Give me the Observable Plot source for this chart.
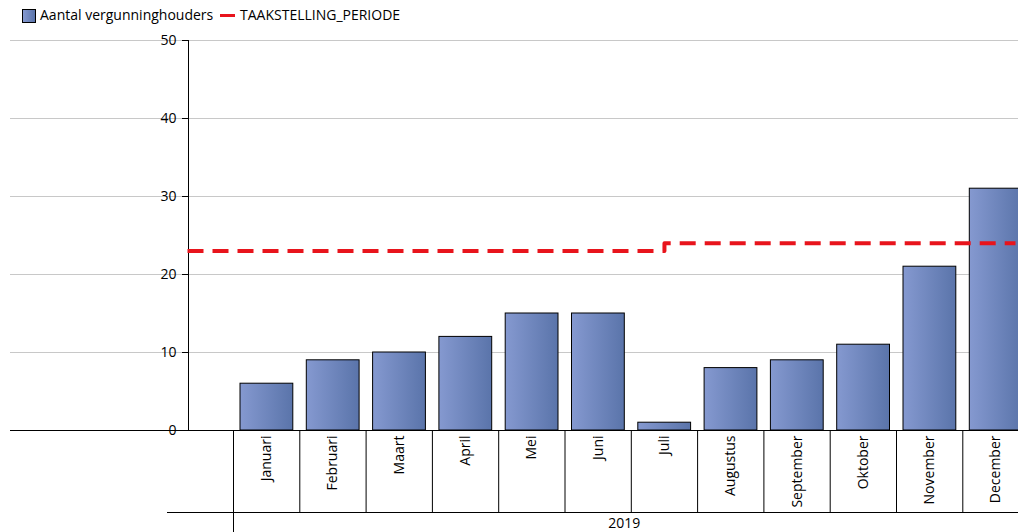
<!DOCTYPE html>
<html>
<head>
<meta charset="utf-8">
<script src="https://cdn.jsdelivr.net/npm/d3@7"></script>
<script src="https://cdn.jsdelivr.net/npm/@observablehq/plot@0.6"></script>
<style>
  html, body { margin: 0; padding: 0; background: #fff; overflow: hidden; }
  body { font-family: "Open Sans", Lato, sans-serif; }
  #legend { height: 24px; position: relative; font-size: 14px; color: #000; }
  #legend .sw { position: absolute; top: 9px; left: 22px; width: 12px; height: 12px; border: 1px solid #000;
    background: linear-gradient(to right, #8599d0, #5a74aa); }
  #legend .t1 { position: absolute; left: 40px; top: 5px; white-space: nowrap; }
  #legend .ln { position: absolute; left: 220px; top: 14px; width: 15px; height: 3px; background: #e8141c; }
  #legend .t2 { position: absolute; left: 240px; top: 5px; white-space: nowrap; }
</style>
</head>
<body>
<div id="legend"><div class="sw"></div><span class="t1">Aantal vergunninghouders</span><div class="ln"></div><span class="t2">TAAKSTELLING_PERIODE</span></div>
<div id="chart"></div>
<script>
const months = ["Januari","Februari","Maart","April","Mei","Juni","Juli","Augustus","September","Oktober","November","December"];
const vergunninghouders = [6, 9, 10, 12, 15, 15, 1, 8, 9, 11, 21, 31];
const taakstelling = [23, 23, 23, 23, 23, 23, 24, 24, 24, 24, 24, 24];
const yearLabel = "2019";
const yTicks = [0, 10, 20, 30, 40, 50];

const data = months.map((m, i) => ({i, month: m, value: vergunninghouders[i], target: taakstelling[i]}));

const W = 1018, H = 508;
const mTop = 16, mBottom = 102, mLeft = 10, mRight = 0;
const axisX = 188;            // pixel position of the value axis
const xDomain = [-0.5, months.length - 0.5];
const xRange = [233, 233 + 66.3 * months.length];
const xs = d3.scaleLinear(xDomain, xRange);
const lineStart = xs.invert(axisX - 1);
const lineEnd = xs.invert(1015);
const lineData = [{x: lineStart, y: taakstelling[0]}, ...data.map(d => ({x: d.i, y: d.target})), {x: lineEnd, y: taakstelling[taakstelling.length - 1]}];
const borders = d3.range(months.length + 1).map(k => k - 0.5);

const plot = Plot.plot({
  width: W, height: H,
  marginTop: mTop, marginBottom: mBottom, marginLeft: mLeft, marginRight: mRight,
  style: {fontFamily: "'Open Sans', Lato, sans-serif", fontSize: "14px", color: "#000", background: "#fff"},
  x: {type: "linear", domain: xDomain, range: xRange, axis: null},
  y: {domain: [0, 50], axis: null},
  marks: [
    Plot.gridY(yTicks, {stroke: "#c8c8c8", strokeOpacity: 1}),
    Plot.axisY(yTicks, {dx: axisX - mLeft, tickSize: 6, tickPadding: 6, fontSize: 14, label: null, stroke: "#000"}),
    Plot.frame({anchor: "left", dx: axisX - mLeft, stroke: "#000"}),
    Plot.rectY(data, {x1: d => d.i - 0.5, x2: d => d.i + 0.5, y1: 0, y2: "value", insetLeft: 7, insetRight: 6.5,
      fill: "url(#barGrad)", stroke: "#000", strokeWidth: 1}),
    Plot.line(lineData, {x: "x", y: "y", curve: "step-after", stroke: "#e8141c", strokeWidth: 4,
      strokeDasharray: "16,9", strokeLinecap: "butt"}),
    Plot.ruleY([0], {stroke: "#000", strokeWidth: 1}),
    Plot.ruleX(borders.slice(1), {y1: 0, y2: 0, insetBottom: -82, stroke: "#000"}),
    Plot.ruleX(borders.slice(0, 1), {y1: 0, y2: 0, insetBottom: -102, stroke: "#000"}),
    Plot.ruleY([0], {dy: 82, insetLeft: 157, stroke: "#000"}),
    Plot.text(data, {x: "i", y: 0, text: "month", rotate: -90, textAnchor: "end", dy: 5, fontSize: 14, fill: "#000"}),
    Plot.text([yearLabel], {x: months.length / 2 - 1, y: 0, text: d => d, dy: 93, dx: 26, fontSize: 14, fill: "#000"})
  ]
});

const defs = d3.select(plot).insert("defs", ":first-child");
const g = defs.append("linearGradient").attr("id", "barGrad").attr("x1", "0%").attr("x2", "100%").attr("y1", "0%").attr("y2", "0%");
g.append("stop").attr("offset", "0%").attr("stop-color", "#8599d0");
g.append("stop").attr("offset", "100%").attr("stop-color", "#5a74aa");

document.getElementById("chart").appendChild(plot);
</script>
</body>
</html>
